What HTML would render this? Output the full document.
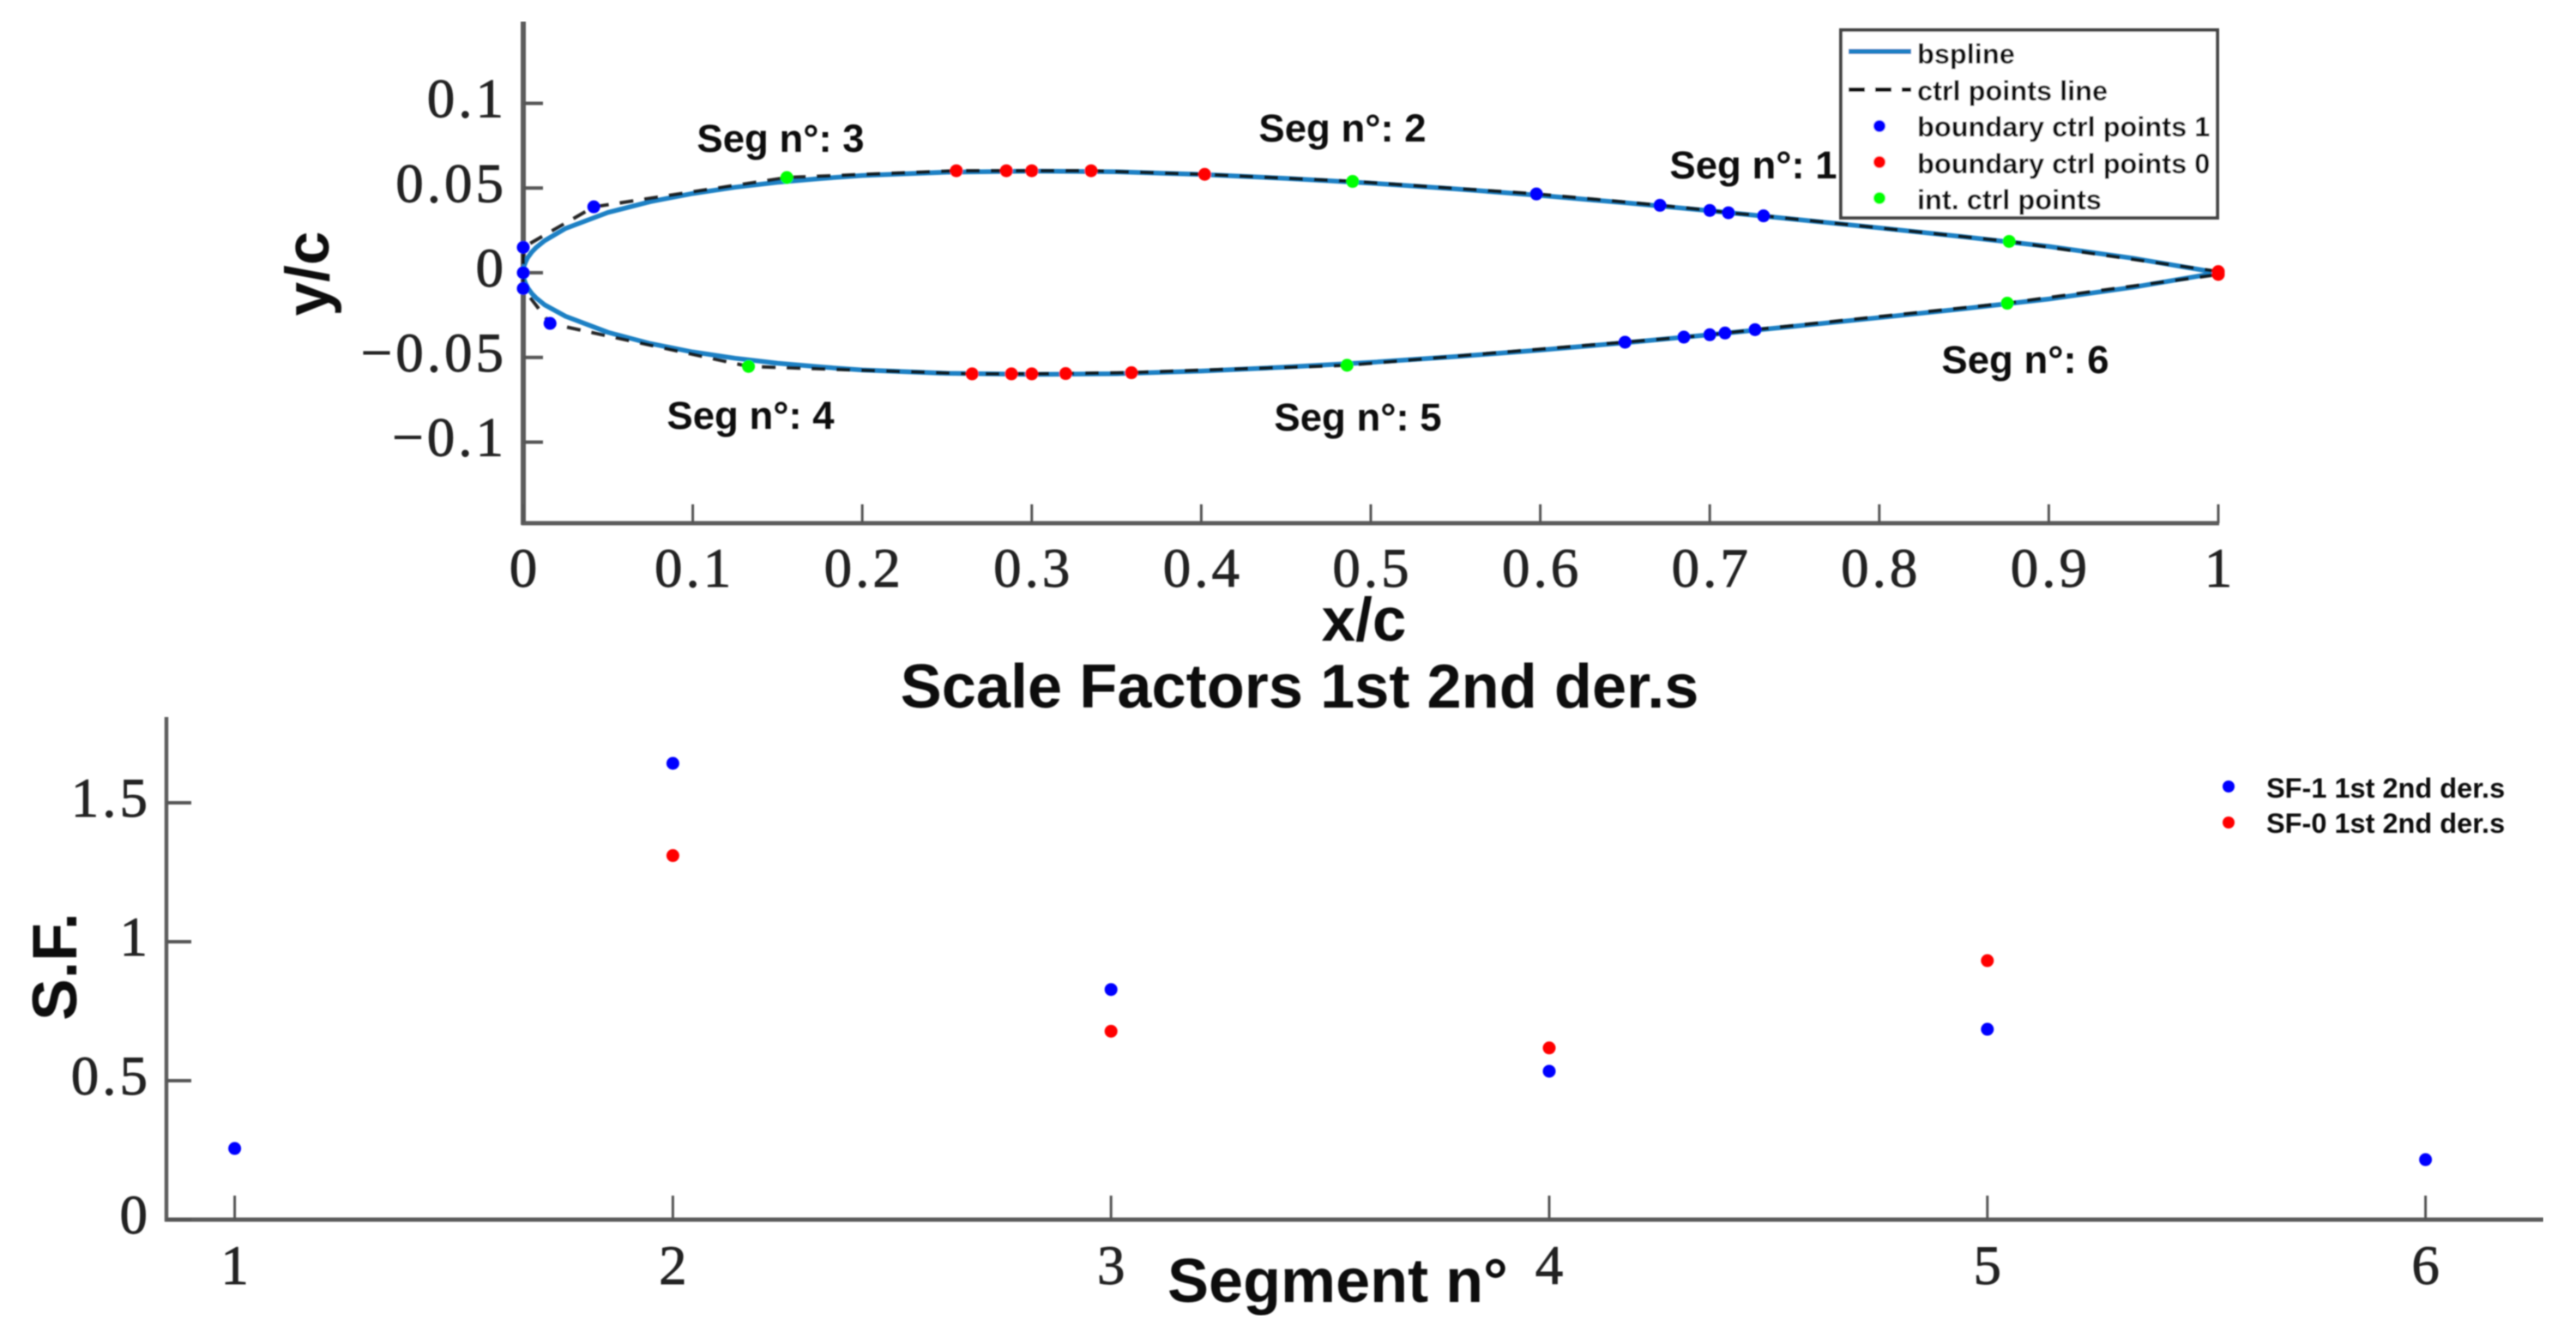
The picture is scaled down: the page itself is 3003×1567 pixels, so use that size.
<!DOCTYPE html>
<html lang="en">
<head>
<meta charset="utf-8">
<title>Airfoil B-spline and scale factors</title>
<style>
html,body{margin:0;padding:0;background:#fff;}
svg{display:block;}
.tick{font-family:"Liberation Serif",serif;font-size:65px;fill:#222;stroke:#222;stroke-width:0.9px;letter-spacing:4px;}
.lab{font-family:"Liberation Sans",sans-serif;font-weight:bold;fill:#111;}
.seg{font-size:45.5px;text-anchor:middle;}
.leg{font-size:32.5px;}
</style>
</head>
<body>
<svg id="fig" xmlns="http://www.w3.org/2000/svg" width="3003" height="1567" viewBox="0 0 3003 1567">
<defs><filter id="soft" x="0" y="0" width="100%" height="100%"><feGaussianBlur stdDeviation="0.9"/></filter></defs>
<rect width="3003" height="1567" fill="#fff"/>
<g id="root" filter="url(#soft)">
  <g id="top"></g>
  <g id="bot"></g>

  <g>
    <text class="lab seg" x="2044" y="208">Seg n°: 1</text>
    <text class="lab seg" x="1565" y="165">Seg n°: 2</text>
    <text class="lab seg" x="910" y="177">Seg n°: 3</text>
    <text class="lab seg" x="875" y="500">Seg n°: 4</text>
    <text class="lab seg" x="1583" y="502">Seg n°: 5</text>
    <text class="lab seg" x="2361" y="435">Seg n°: 6</text>
  </g>

  <text class="lab" x="1590" y="747" font-size="71" text-anchor="middle">x/c</text>
  <text class="lab" transform="translate(383,319) rotate(-90)" font-size="71" text-anchor="middle">y/c</text>
  <text class="lab" x="1515" y="825" font-size="72.2" text-anchor="middle">Scale Factors 1st 2nd der.s</text>
  <text class="lab" x="1361" y="1518" font-size="72">Segment n°</text>
  <text class="lab" transform="translate(89,1127) rotate(-90)" font-size="73" text-anchor="middle">S.F.</text>

  <g>
    <rect x="2146" y="35" width="439" height="219" fill="#fff" stroke="#444" stroke-width="4"/>
    <line x1="2155" y1="60" x2="2228" y2="60" stroke="#1a80c4" stroke-width="6"/>
    <text class="lab leg" x="2235" y="74">bspline</text>
    <line x1="2155" y1="104.5" x2="2228" y2="104.5" stroke="#111" stroke-width="5" stroke-dasharray="19 12"/>
    <text class="lab leg" x="2235" y="117">ctrl points line</text>
    <circle cx="2191" cy="147" r="7" fill="#0000ff"/>
    <text class="lab leg" x="2235" y="159">boundary ctrl points 1</text>
    <circle cx="2191" cy="189" r="7" fill="#ff0000"/>
    <text class="lab leg" x="2235" y="202">boundary ctrl points 0</text>
    <circle cx="2191" cy="231" r="7" fill="#00ff00"/>
    <text class="lab leg" x="2235" y="244">int. ctrl points</text>
  </g>

  <g>
    <circle cx="2598" cy="917" r="7" fill="#0000ff"/>
    <text class="lab leg" x="2642" y="930">SF-1 1st 2nd der.s</text>
    <circle cx="2598" cy="959" r="7" fill="#ff0000"/>
    <text class="lab leg" x="2642" y="971">SF-0 1st 2nd der.s</text>
  </g>
</g>
</svg>
<script>
// ---- Airfoil plot data ----
const airfoilXTicks = [0,0.1,0.2,0.3,0.4,0.5,0.6,0.7,0.8,0.9,1];
const airfoilXLabels = ['0','0.1','0.2','0.3','0.4','0.5','0.6','0.7','0.8','0.9','1'];
const airfoilYTicks = [0.1,0.05,0,-0.05,-0.1];
const airfoilYLabels = ['0.1','0.05','0','\u22120.05','\u22120.1'];

const bsplineUpperX = [0,0.0005,0.00125,0.0025,0.005,0.0075,0.0125,0.025,0.05,0.075,0.1,0.125,0.15,0.175,0.2,0.25,0.3,0.35,0.4,0.45,0.5,0.55,0.6,0.65,0.7,0.75,0.8,0.85,0.9,0.95,1];
const bsplineUpperY = [0,0.004,0.0062,0.0087,0.0122,0.0148,0.0189,0.0262,0.0356,0.042,0.0468,0.0505,0.0534,0.0556,0.0574,0.0594,0.06,0.0596,0.058,0.0557,0.0529,0.0495,0.0456,0.0413,0.0366,0.0316,0.0265,0.0212,0.0155,0.0085,0];
const bsplineLowerX = [0,0.0005,0.00125,0.0025,0.005,0.0075,0.0125,0.025,0.05,0.075,0.1,0.125,0.15,0.175,0.2,0.25,0.3,0.35,0.4,0.45,0.5,0.55,0.6,0.65,0.7,0.75,0.8,0.85,0.9,0.95,1];
const bsplineLowerY = [0,-0.004,-0.0062,-0.0087,-0.0122,-0.0148,-0.0189,-0.0257,-0.0352,-0.0418,-0.0468,-0.0505,-0.0534,-0.0556,-0.0574,-0.0594,-0.06,-0.0596,-0.058,-0.0557,-0.0529,-0.0495,-0.0456,-0.0413,-0.0366,-0.0316,-0.0265,-0.0212,-0.0155,-0.0085,0];

const ctrlLineX = [1,0.8766,0.7317,0.711,0.70,0.6706,0.5977,0.4893,0.402,0.335,0.30,0.285,0.2555,0.1555,0.0416,0,0,0,0.0158,0.1329,0.2648,0.288,0.30,0.32,0.3588,0.486,0.65,0.6847,0.70,0.709,0.7267,0.8755,1];
const ctrlLineY = [0.0007,0.0185,0.0336,0.0354,0.0368,0.0398,0.0465,0.0539,0.0581,0.0602,0.0602,0.0602,0.0602,0.0562,0.0389,0.015,0,-0.0093,-0.0299,-0.0553,-0.0597,-0.0597,-0.0597,-0.0595,-0.059,-0.0546,-0.041,-0.038,-0.0366,-0.0356,-0.0336,-0.018,-0.001];

const boundary1X = [0.7317,0.711,0.70,0.6706,0.5977,0.0416,0,0,0,0.0158,0.65,0.6847,0.70,0.709,0.7267];
const boundary1Y = [0.0336,0.0354,0.0368,0.0398,0.0465,0.0389,0.015,0,-0.0093,-0.0299,-0.041,-0.038,-0.0366,-0.0356,-0.0336];
const boundary0X = [1,0.402,0.335,0.30,0.285,0.2555,0.2648,0.288,0.30,0.32,0.3588,1];
const boundary0Y = [0.0007,0.0581,0.0602,0.0602,0.0602,0.0602,-0.0597,-0.0597,-0.0597,-0.0595,-0.059,-0.001];
const intCtrlX = [0.8766,0.4893,0.1555,0.1329,0.486,0.8755];
const intCtrlY = [0.0185,0.0539,0.0562,-0.0553,-0.0546,-0.018];

// ---- Scale factor plot data ----
const segments = [1,2,3,4,5,6];
const sf1Values = [0.256,1.642,0.828,0.534,0.685,0.216];
const sf0Values = [null,1.31,0.678,0.618,0.932,null];
const sfYTicks = [1.5,1,0.5,0];
const sfYLabels = ['1.5','1','0.5','0'];

// ---- Axis functions ----
function airfoilX(v){ return 610 + v * 1976; }
function airfoilY(v){ return 318 - v * 1975; }
function sfX(v){ return 273.6 + (v - 1) * 510.8; }
function sfY(v){ return 1422 - v * 324; }

const NS = 'http://www.w3.org/2000/svg';
const topG = document.getElementById('top');
const botG = document.getElementById('bot');

function make(parent, tag, attrs, txt){
  const el = document.createElementNS(NS, tag);
  for (const k in attrs) el.setAttribute(k, attrs[k]);
  if (txt !== undefined) el.textContent = txt;
  parent.appendChild(el);
  return el;
}
function pathFrom(xs, ys, fx, fy){
  return xs.map(function(x, i){ return (i ? 'L' : 'M') + fx(x).toFixed(1) + ' ' + fy(ys[i]).toFixed(1); }).join(' ');
}

// ---- Airfoil axes ----
let el;
el = make(topG, 'line', {x1:610, y1:25, x2:610, y2:612, stroke:'#5c5c5c', 'stroke-width':6});


el = make(topG, 'line', {x1:608, y1:610, x2:airfoilX(1) + 1, y2:610, stroke:'#5c5c5c', 'stroke-width':5});



airfoilXTicks.forEach(function(v, i){
  const px = airfoilX(v);
  const t = make(topG, 'line', {x1:px, y1:588, x2:px, y2:610, stroke:'#555', 'stroke-width':3});
  
  
  const s = airfoilXLabels[i];
  const l = make(topG, 'text', {class:'tick', x:px + 2, y:684, 'text-anchor':'middle'}, s);
  
  
});
airfoilYTicks.forEach(function(v, i){
  const py = airfoilY(v);
  const t = make(topG, 'line', {x1:610, y1:py, x2:633, y2:py, stroke:'#555', 'stroke-width':4});
  
  
  const l = make(topG, 'text', {class:'tick', x:591, y:py + 16, 'text-anchor':'end'}, airfoilYLabels[i]);
  
  
});

// ---- Airfoil series ----
el = make(topG, 'path', {d:pathFrom(bsplineUpperX, bsplineUpperY, airfoilX, airfoilY), fill:'none', stroke:'#1a80c4', 'stroke-width':5.5, 'stroke-linejoin':'round'});


el = make(topG, 'path', {d:pathFrom(bsplineLowerX, bsplineLowerY, airfoilX, airfoilY), fill:'none', stroke:'#1a80c4', 'stroke-width':5.5, 'stroke-linejoin':'round'});


el = make(topG, 'path', {d:pathFrom(ctrlLineX, ctrlLineY, airfoilX, airfoilY), fill:'none', stroke:'#111', 'stroke-width':4, 'stroke-dasharray':'16 13', opacity:0.9});



boundary1X.forEach(function(x, i){
  const c = make(topG, 'circle', {cx:airfoilX(x), cy:airfoilY(boundary1Y[i]), r:7.5, fill:'#0000ff'});
  
  
});
boundary0X.forEach(function(x, i){
  const c = make(topG, 'circle', {cx:airfoilX(x), cy:airfoilY(boundary0Y[i]), r:7.5, fill:'#ff0000'});
  
  
});
intCtrlX.forEach(function(x, i){
  const c = make(topG, 'circle', {cx:airfoilX(x), cy:airfoilY(intCtrlY[i]), r:7.5, fill:'#00ff00'});
  
  
});

// ---- Scale factor axes ----
el = make(botG, 'line', {x1:194, y1:836, x2:194, y2:1424, stroke:'#5c5c5c', 'stroke-width':4.5});


el = make(botG, 'line', {x1:192, y1:1422, x2:2965, y2:1422, stroke:'#5c5c5c', 'stroke-width':5});



segments.forEach(function(v){
  const px = sfX(v);
  const t = make(botG, 'line', {x1:px, y1:1394, x2:px, y2:1422, stroke:'#555', 'stroke-width':3});
  
  
  const l = make(botG, 'text', {class:'tick', x:px + 2, y:1497, 'text-anchor':'middle'}, String(v));
  
  
});
sfYTicks.forEach(function(v, i){
  const py = sfY(v);
  const t = make(botG, 'line', {x1:194, y1:py, x2:223, y2:py, stroke:'#555', 'stroke-width':4});
  
  
  const l = make(botG, 'text', {class:'tick', x:176, y:py + 16, 'text-anchor':'end'}, sfYLabels[i]);
  
  
});

// ---- Scale factor points ----
segments.forEach(function(s, i){
  if (sf1Values[i] !== null) {
    const c = make(botG, 'circle', {cx:sfX(s), cy:sfY(sf1Values[i]), r:7.5, fill:'#0000ff'});
    
    
  }
  if (sf0Values[i] !== null) {
    const c = make(botG, 'circle', {cx:sfX(s), cy:sfY(sf0Values[i]), r:7.5, fill:'#ff0000'});
    
    
  }
});
</script>
</body>
</html>
